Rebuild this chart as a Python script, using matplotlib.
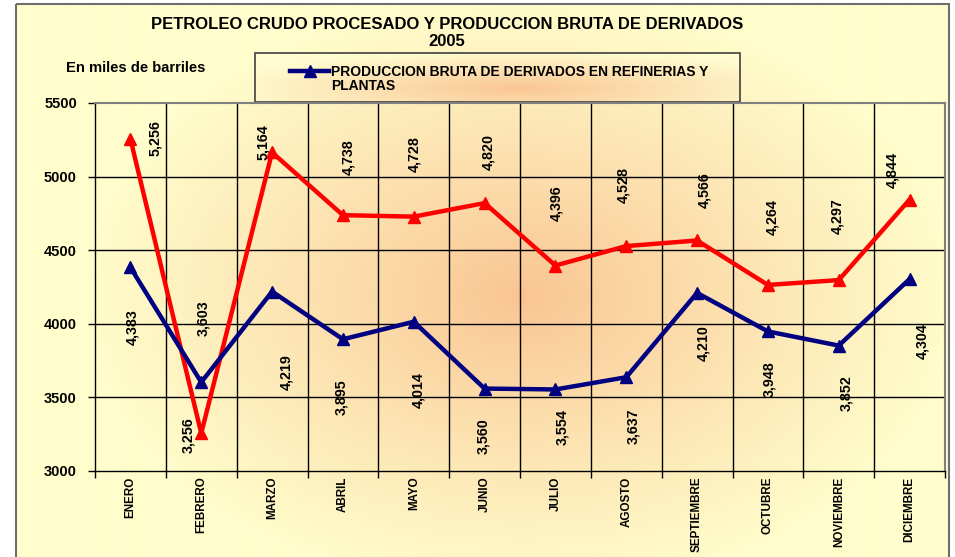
import numpy as np
import matplotlib
matplotlib.use("Agg")
import matplotlib.pyplot as plt
from matplotlib.patches import Rectangle
from matplotlib.lines import Line2D

plt.rcParams['font.family'] = ['Liberation Sans', 'DejaVu Sans']

months = ["ENERO", "FEBRERO", "MARZO", "ABRIL", "MAYO", "JUNIO", "JULIO",
          "AGOSTO", "SEPTIEMBRE", "OCTUBRE", "NOVIEMBRE", "DICIEMBRE"]
crudo = [5256, 3256, 5164, 4738, 4728, 4820, 4396, 4528, 4566, 4264, 4297, 4844]
derivados = [4383, 3603, 4219, 3895, 4014, 3560, 3554, 3637, 4210, 3948, 3852, 4304]
y_ticks = [3000, 3500, 4000, 4500, 5000, 5500]

title = "PETROLEO CRUDO PROCESADO Y PRODUCCION BRUTA DE DERIVADOS\n2005"
legend_label = "PRODUCCION BRUTA DE DERIVADOS EN REFINERIAS Y\nPLANTAS"
unit_label = "En miles de barriles"

# label offsets in pixels (dx, dy up)
red_off = [(25, 1), (-13, -2), (-9, 10), (5, 58), (0, 63), (4, 51), (1, 62),
           (-3, 61), (7, 50), (4, 68), (-2, 64), (-17, 30)]
blue_off = [(2, -60), (2, 64), (14, -81), (-2, -58), (4, -68), (-1, -48), (7, -38),
            (7, -49), (6, -50), (1, -48), (7, -47), (13, -62)]

W, H = 955, 557
fig = plt.figure(figsize=(W / 100, H / 100), dpi=100)
fig.patch.set_facecolor("white")

def grad(w, h, xc, yc, rx, ry, c_in, c_out, p=1.0):
    xs = np.arange(w)[None, :]
    ys = np.arange(h)[:, None]
    d = np.sqrt(((xs - xc) / rx) ** 2 + ((ys - yc) / ry) ** 2)
    t = np.clip(d, 0, 1) ** p
    c_in = np.array(c_in) / 255.0
    c_out = np.array(c_out) / 255.0
    return c_in[None, None, :] * (1 - t[..., None]) + c_out[None, None, :] * t[..., None]

bg = fig.add_axes([0, 0, 1, 1], zorder=0)
bg.axis("off")
# chart area gradient
x0, y0, x1, y1 = 16, 4, 949, 557
img = grad(x1 - x0, y1 - y0, 520 - x0, 295 - y0, 440, 300,
           (249, 196, 146), (255, 254, 204), 0.9)
bg.imshow(img, extent=(x0, x1, y1, y0), aspect="auto", interpolation="bilinear")
bg.add_patch(Rectangle((x0, y0), x1 - x0, y1 - y0 + 5, fill=False,
                       edgecolor="#6e6e6e", lw=1.5))

# legend box with its own gradient
lx0, ly0, lx1, ly1 = 255, 53, 740, 102
limg = grad(lx1 - lx0, ly1 - ly0, 517 - lx0, 88 - ly0, 300, 38,
            (250, 198, 148), (255, 253, 208), 1.0)
bg.imshow(limg, extent=(lx0, lx1, ly1, ly0), aspect="auto", interpolation="bilinear")
bg.add_patch(Rectangle((lx0, ly0), lx1 - lx0, ly1 - ly0, fill=False,
                       edgecolor="#404040", lw=1.2))
bg.set_xlim(0, W)
bg.set_ylim(H, 0)

ax = fig.add_axes([95 / W, 1 - 471 / H, (945 - 95) / W, (471 - 103) / H], zorder=2)
ax.set_facecolor("none")
x = np.arange(len(months))
ax.set_xlim(-0.5, len(months) - 0.5)
ax.set_ylim(3000, 5500)

ax.plot(x, crudo, color="#FF0000", lw=3.2, marker="^", ms=9, zorder=3)
ax.plot(x, derivados, color="#000080", lw=3.2, marker="^", ms=9, zorder=3)

for i, v in enumerate(crudo):
    ax.annotate(f"{v:,}", (x[i], v), xytext=red_off[i], textcoords="offset pixels",
                rotation=90, ha="center", va="center", fontsize=10.3,
                fontweight="bold", color="black", zorder=4)
for i, v in enumerate(derivados):
    ax.annotate(f"{v:,}", (x[i], v), xytext=blue_off[i], textcoords="offset pixels",
                rotation=90, ha="center", va="center", fontsize=10.3,
                fontweight="bold", color="black", zorder=4)

ax.set_yticks(y_ticks)
ax.set_yticklabels([str(t) for t in y_ticks], fontsize=10.5, fontweight="bold")
ax.set_xticks(x)
ax.set_xticklabels(months, rotation=90, fontsize=8.4, fontweight="bold", va="top")
ax.tick_params(axis="x", length=0, pad=4)
ax.set_xticks(np.arange(-0.5, len(months)), minor=True)
ax.tick_params(axis="x", which="minor", length=5, width=1, color="black")
ax.tick_params(axis="y", length=5, width=1, pad=8, color="black")
ax.grid(False)
for yt in y_ticks[1:-1]:
    ax.axhline(yt, color="black", lw=1, zorder=1)
for xb in np.arange(0.5, len(months) - 0.5):
    ax.axvline(xb, color="black", lw=1, zorder=1)
for s in ["top", "right"]:
    ax.spines[s].set_color("#808080")
    ax.spines[s].set_linewidth(1.5)
for s in ["left", "bottom"]:
    ax.spines[s].set_color("black")
    ax.spines[s].set_linewidth(1)

fig.text(447 / W, 1 - 33 / H, title, ha="center", va="center", fontsize=12,
         fontweight="bold", linespacing=1.1)
fig.text(66 / W, 1 - 68 / H, unit_label, ha="left", va="center", fontsize=10.6,
         fontweight="bold")

# legend entry
bg.add_line(Line2D([290, 329], [71, 71], color="#000080", lw=3.2))
bg.add_line(Line2D([309.5], [71], color="#000080", marker="^", ms=9, lw=0))
bg.text(331, 79, legend_label, ha="left", va="center", fontsize=10,
        fontweight="bold", linespacing=1.05)

fig.savefig("out.png", dpi=100, facecolor=fig.get_facecolor())
